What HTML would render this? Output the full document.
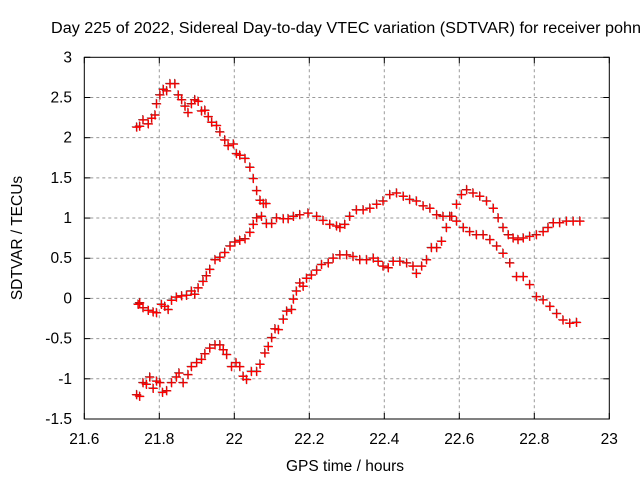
<!DOCTYPE html>
<html><head><meta charset="utf-8"><style>
body{margin:0;background:#fff;}
svg text{font-family:"Liberation Sans",sans-serif;font-size:15.5px;fill:#000;}
</style></head><body>
<svg id="chart" width="640" height="480" xmlns="http://www.w3.org/2000/svg">
<rect width="640" height="480" fill="#fff"/>
<text x="51" y="33" textLength="590" lengthAdjust="spacingAndGlyphs">Day 225 of 2022, Sidereal Day-to-day VTEC variation (SDTVAR) for receiver pohn</text>
<g id="grid"></g><g id="ticks"></g><g id="marks"></g>
<rect x="84.3" y="57.3" width="525" height="361.7" fill="none" stroke="#000" stroke-width="1"/>
<text x="345" y="471" text-anchor="middle">GPS time / hours</text>
<text transform="translate(22,238) rotate(-90)" text-anchor="middle">SDTVAR / TECUs</text>
</svg>
<script>
const xTicks=[21.6,21.8,22,22.2,22.4,22.6,22.8,23];
const xTickLabels=["21.6","21.8","22","22.2","22.4","22.6","22.8","23"];
const yTicks=[-1.5,-1,-0.5,0,0.5,1,1.5,2,2.5,3];
const yTickLabels=["-1.5","-1","-0.5","0","0.5","1","1.5","2","2.5","3"];
const s1x=[21.740,21.748,21.757,21.771,21.780,21.789,21.793,21.802,21.811,21.820,21.829,21.842,21.851,21.860,21.869,21.877,21.886,21.895,21.904,21.913,21.922,21.931,21.940,21.953,21.962,21.975,21.984,21.998,22.006,22.015,22.029,22.042,22.051,22.060,22.069,22.078,22.085];
const s1y=[2.13,2.14,2.22,2.17,2.24,2.28,2.42,2.53,2.60,2.58,2.67,2.67,2.53,2.47,2.39,2.31,2.42,2.47,2.45,2.33,2.34,2.26,2.19,2.15,2.07,1.97,1.90,1.92,1.80,1.78,1.74,1.63,1.49,1.34,1.22,1.18,1.18];
const s2x=[21.744,21.748,21.757,21.771,21.784,21.793,21.806,21.815,21.824,21.833,21.846,21.860,21.873,21.886,21.895,21.904,21.917,21.926,21.935,21.949,21.962,21.975,21.989,22.002,22.015,22.029,22.042,22.051,22.060,22.073,22.086,22.100,22.113,22.131,22.144,22.158,22.175,22.197,22.220,22.237,22.255,22.273,22.282,22.295,22.308,22.326,22.344,22.362,22.380,22.397,22.415,22.433,22.451,22.468,22.486,22.504,22.522,22.540,22.557,22.575,22.593,22.611,22.628,22.646,22.664,22.682,22.700,22.717,22.735,22.753,22.771,22.788,22.806,22.824,22.842,22.860,22.877,22.895,22.913];
const s2y=[-0.075,-0.055,-0.117,-0.15,-0.17,-0.18,-0.075,-0.10,-0.14,-0.025,0.015,0.03,0.037,0.09,0.05,0.13,0.21,0.28,0.36,0.48,0.51,0.57,0.65,0.70,0.72,0.74,0.82,0.92,1.0,1.02,0.93,0.93,1.0,0.99,0.99,1.02,1.04,1.06,1.02,0.97,0.92,0.90,0.88,0.92,1.02,1.10,1.10,1.12,1.17,1.21,1.29,1.31,1.27,1.23,1.21,1.15,1.12,1.04,1.02,1.02,0.96,0.88,0.83,0.79,0.79,0.73,0.65,0.56,0.44,0.27,0.27,0.17,0.02,-0.02,-0.10,-0.19,-0.27,-0.31,-0.30];
const s3x=[21.740,21.748,21.757,21.766,21.775,21.784,21.793,21.802,21.809,21.820,21.833,21.846,21.853,21.864,21.877,21.886,21.900,21.913,21.922,21.935,21.949,21.962,21.971,21.980,21.993,22.005,22.015,22.024,22.033,22.046,22.060,22.069,22.082,22.091,22.100,22.109,22.118,22.131,22.140,22.153,22.158,22.166,22.175,22.184,22.193,22.206,22.220,22.233,22.251,22.264,22.282,22.300,22.317,22.335,22.353,22.371,22.384,22.397,22.411,22.424,22.442,22.460,22.477,22.486,22.500,22.513,22.526,22.540,22.553,22.566,22.580,22.593,22.606,22.620,22.637,22.655,22.673,22.691,22.704,22.717,22.731,22.744,22.757,22.771,22.788,22.806,22.824,22.837,22.851,22.868,22.886,22.904,22.922];
const s3y=[-1.20,-1.22,-1.05,-1.07,-0.98,-1.12,-1.03,-1.05,-1.17,-1.15,-1.05,-0.98,-0.93,-1.05,-0.95,-0.85,-0.80,-0.76,-0.69,-0.62,-0.58,-0.58,-0.64,-0.70,-0.85,-0.80,-0.85,-0.97,-1.01,-0.91,-0.91,-0.82,-0.68,-0.60,-0.49,-0.38,-0.39,-0.26,-0.16,-0.14,-0.01,0.09,0.19,0.15,0.25,0.29,0.35,0.42,0.44,0.50,0.54,0.54,0.52,0.48,0.48,0.50,0.46,0.40,0.38,0.46,0.46,0.44,0.40,0.31,0.40,0.48,0.63,0.63,0.71,0.88,1.02,1.17,1.29,1.35,1.31,1.27,1.21,1.12,1.00,0.88,0.79,0.75,0.73,0.75,0.77,0.79,0.83,0.88,0.94,0.94,0.96,0.96,0.96];

const NS='http://www.w3.org/2000/svg';
const X0=84.3,X1=609.3,Y0=419,Y1=57.3;
function xs(v){return X0+(v-21.6)/(23-21.6)*(X1-X0);}
function ys(v){return Y0-(v+1.5)/4.5*(Y0-Y1);}
function mk(tag,attrs,parent){const e=document.createElementNS(NS,tag);for(const k in attrs)e.setAttribute(k,attrs[k]);parent.appendChild(e);return e;}
const grid=document.getElementById('grid'),ticks=document.getElementById('ticks'),marks=document.getElementById('marks');
xTicks.forEach((t,i)=>{
  const x=xs(t);
  if(i>0&&i<xTicks.length-1){const g=mk('line',{x1:x,x2:x,y1:Y1,y2:Y0,stroke:'#999','stroke-dasharray':'3,3'},grid);
  
  }
  mk('line',{x1:x,x2:x,y1:Y0,y2:Y0-6,stroke:'#000'},ticks);
  mk('line',{x1:x,x2:x,y1:Y1,y2:Y1+6,stroke:'#000'},ticks);
  const tx=mk('text',{x:x,y:444,'text-anchor':'middle'},ticks);tx.textContent=xTickLabels[i];
  
  
});
yTicks.forEach((t,i)=>{
  const y=ys(t);
  if(i>0&&i<yTicks.length-1){const g=mk('line',{x1:X0,x2:X1,y1:y,y2:y,stroke:'#999','stroke-dasharray':'3,3'},grid);
  
  }
  mk('line',{x1:X0,x2:X0+6,y1:y,y2:y,stroke:'#000'},ticks);
  mk('line',{x1:X1,x2:X1-6,y1:y,y2:y,stroke:'#000'},ticks);
  const tx=mk('text',{x:72,y:y+5,'text-anchor':'end'},ticks);tx.textContent=yTickLabels[i];
  
  
});
function cross(x,y,c,w,name){
  const g=mk('path',{d:`M${x-4.5},${y}h9M${x},${y-4.5}v9`,stroke:c,'stroke-width':w,fill:'none'},marks);
  
  
}
[[s1x,s1y,'series-1'],[s2x,s2y,'series-2'],[s3x,s3y,'series-3']].forEach(([sx,sy,n])=>{
  sx.forEach((v,i)=>cross(xs(v)-0.5,ys(sy[i])-0.5,'#333',0.8,n+'-black-point'));
  sx.forEach((v,i)=>cross(xs(v),ys(sy[i]),'#f00',1.2,n+'-red-point'));
});
</script>
</body></html>
